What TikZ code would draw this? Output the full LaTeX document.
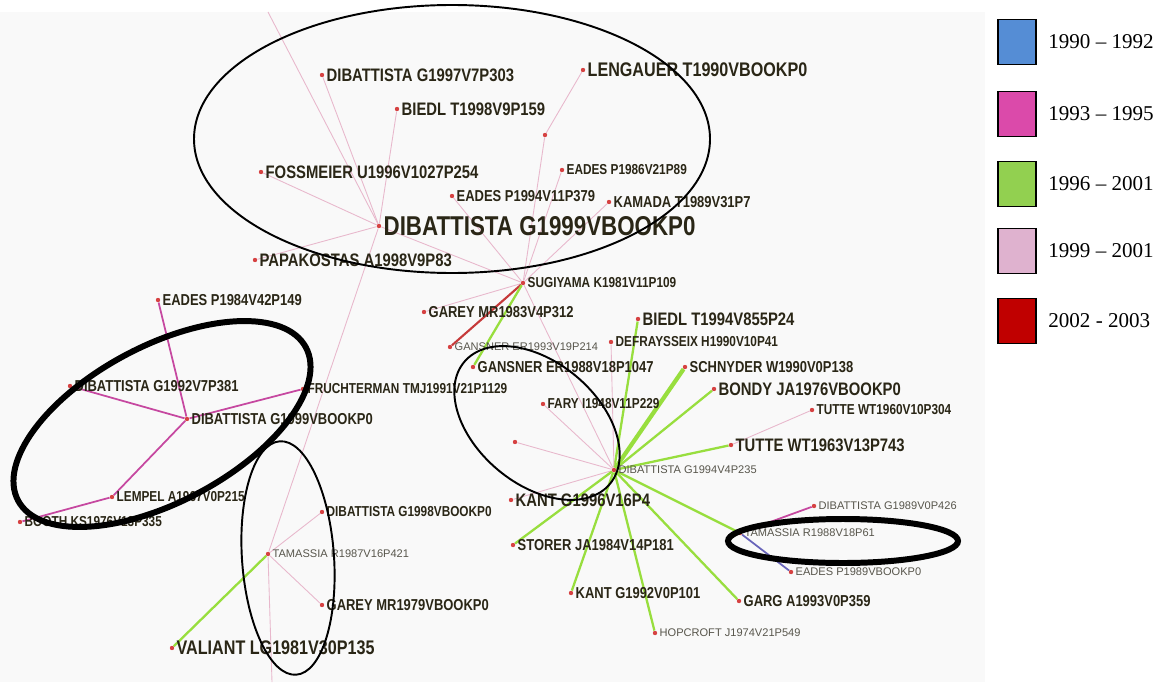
\documentclass[tikz,border=0pt]{standalone}
\usepackage{fontspec}
\usepackage{tikz}
\newfontfamily\graphfont[FakeStretch=0.82]{Liberation Sans}
\newfontfamily\plainfont{Liberation Sans}
\newfontfamily\legfont{Liberation Serif}
\definecolor{panel}{RGB}{249,249,249}
\definecolor{ink}{RGB}{42,38,22}
\definecolor{inklight}{RGB}{88,86,76}
\definecolor{dotred}{RGB}{214,66,66}
\definecolor{edgepink}{RGB}{232,184,204}
\definecolor{edgemag}{RGB}{198,72,160}
\definecolor{edgegreen}{RGB}{152,222,62}
\definecolor{edgered}{RGB}{198,58,58}
\definecolor{edgeblue}{RGB}{104,100,186}
\definecolor{legblue}{RGB}{85,141,213}
\definecolor{legmag}{RGB}{219,74,170}
\definecolor{leggreen}{RGB}{146,208,80}
\definecolor{legpink}{RGB}{223,178,207}
\definecolor{legred}{RGB}{192,0,0}
\pgfdeclarelayer{bg}
\pgfsetlayers{bg,main}
\tikzset{
pt/.style={circle,fill=dotred,inner sep=0pt,minimum size=2.5pt},
hublbl/.style={font=\graphfont\bfseries\fontsize{15.5}{17}\selectfont,text=ink,inner sep=1pt},
biglbl/.style={font=\graphfont\bfseries\fontsize{11.2}{13}\selectfont,text=ink,inner sep=1pt},
lbl/.style={font=\graphfont\bfseries\fontsize{10.3}{12}\selectfont,text=ink,inner sep=1pt},
midlbl/.style={font=\graphfont\bfseries\fontsize{9}{11}\selectfont,text=ink,inner sep=1pt},
smalllbl/.style={font=\graphfont\bfseries\fontsize{8.2}{10}\selectfont,text=ink,inner sep=1pt},
tinylbl/.style={font=\plainfont\fontsize{6.3}{8}\selectfont,text=inklight,inner sep=1pt},
pinkedge/.style={draw=edgepink,line width=0.5pt},
magedge/.style={draw=edgemag,line width=1pt},
greenedge/.style={draw=edgegreen,line width=1.3pt},
rededge/.style={draw=edgered,line width=1.2pt},
blueedge/.style={draw=edgeblue,line width=1pt},
thinring/.style={draw=black,line width=1.1pt},
thickring/.style={draw=black,line width=3.4pt},
legbox/.style={draw=black,line width=1pt,minimum width=0.76cm,minimum height=0.9cm,inner sep=0pt},
legtext/.style={font=\legfont\fontsize{12}{14}\selectfont,anchor=west,inner sep=0pt}
}
\begin{document}
\begin{tikzpicture}[x=0.02cm,y=-0.02cm]
\useasboundingbox (0,0) rectangle (1158,682);

\node[pt,label={[hublbl]right:DIBATTISTA G1999VBOOKP0}] (dib99) at (379,226) {};
\node[pt,label={[lbl]right:DIBATTISTA G1997V7P303}] (dib97) at (322,75) {};
\node[pt,label={[lbl]right:BIEDL T1998V9P159}] (biedl98) at (397,109) {};
\node[pt,label={[biglbl]right:LENGAUER T1990VBOOKP0}] (leng90) at (583,70) {};
\node[pt,label={[lbl]right:FOSSMEIER U1996V1027P254}] (fossm96) at (261,172) {};
\node[pt,label={[midlbl]right:EADES P1994V11P379}] (eades94) at (452,196) {};
\node[pt,label={[smalllbl]right:EADES P1986V21P89}] (eades86) at (562,170) {};
\node[pt,label={[midlbl]right:KAMADA T1989V31P7}] (kamada89) at (609,202) {};
\node[pt,label={[lbl]right:PAPAKOSTAS A1998V9P83}] (papak98) at (255,260) {};
\node[pt] (relay) at (545,135) {};
\node[pt,label={[smalllbl]right:SUGIYAMA K1981V11P109}] (sugi81) at (523,283) {};
\node[pt,label={[midlbl]right:GAREY MR1983V4P312}] (garey83) at (424,312) {};
\node[pt,label={[tinylbl]right:GANSNER ER1993V19P214}] (gans93) at (450,347) {};
\node[pt,label={[midlbl]right:GANSNER ER1988V18P1047}] (gans88) at (473,367) {};
\coordinate (topend) at (268,12);

\node[pt,label={[midlbl]right:EADES P1984V42P149}] (eades84) at (158,300) {};
\node[pt,label={[midlbl]right:DIBATTISTA G1992V7P381}] (dib92) at (70,386) {};
\node[pt,label={[midlbl]right:DIBATTISTA G1999VBOOKP0}] (dibL) at (187,419) {};
\node[pt,label={[smalllbl]right:FRUCHTERMAN TMJ1991V21P1129}] (frucht91) at (303,389) {};
\node[pt,label={[smalllbl]right:LEMPEL A1967V0P215}] (lempel67) at (112,497) {};
\node[pt,label={[smalllbl]right:BOOTH KS1976V13P335}] (booth76) at (20,522) {};

\node[pt,label={[tinylbl]right:TAMASSIA R1987V16P421}] (tam87) at (268,554) {};
\node[pt,label={[smalllbl]right:DIBATTISTA G1998VBOOKP0}] (dib98) at (322,512) {};
\node[pt,label={[midlbl]right:GAREY MR1979VBOOKP0}] (garey79) at (322,605) {};
\node[pt,label={[biglbl]right:VALIANT LG1981V30P135}] (valiant81) at (172,648) {};
\coordinate (botend) at (272,682);

\node[pt,label={[tinylbl]right:DIBATTISTA G1994V4P235}] (dib94) at (614,470) {};
\node[pt,label={[lbl]right:BIEDL T1994V855P24}] (biedl94) at (638,319) {};
\node[pt,label={[smalllbl]right:DEFRAYSSEIX H1990V10P41}] (defray90) at (611,342) {};
\node[pt,label={[midlbl]right:SCHNYDER W1990V0P138}] (schny90) at (685,367) {};
\node[pt,label={[lbl]right:BONDY JA1976VBOOKP0}] (bondy76) at (714,389) {};
\node[pt,label={[smalllbl]right:FARY I1948V11P229}] (fary48) at (543,404) {};
\node[pt] (stray) at (515,442) {};
\node[pt,label={[smalllbl]right:TUTTE WT1960V10P304}] (tutte60) at (812,410) {};
\node[pt,label={[lbl]right:TUTTE WT1963V13P743}] (tutte63) at (731,445) {};
\node[pt,label={[lbl]right:KANT G1996V16P4}] (kant96) at (511,500) {};
\node[pt,label={[midlbl]right:STORER JA1984V14P181}] (storer84) at (513,545) {};
\node[pt,label={[midlbl]right:KANT G1992V0P101}] (kant92) at (571,593) {};
\node[pt,label={[tinylbl]right:HOPCROFT J1974V21P549}] (hopcr74) at (655,633) {};
\node[pt,label={[midlbl]right:GARG A1993V0P359}] (garg93) at (739,601) {};
\node[pt,label={[tinylbl]right:TAMASSIA R1988V18P61}] (tam88) at (740,533) {};
\node[pt,label={[tinylbl]right:DIBATTISTA G1989V0P426}] (dib89) at (814,506) {};
\node[pt,label={[tinylbl]right:EADES P1989VBOOKP0}] (eades89) at (791,572) {};

\node[legbox,fill=legblue] (key1) at (1017,42) {};
\node[legbox,fill=legmag] (key2) at (1017,114) {};
\node[legbox,fill=leggreen] (key3) at (1017,184) {};
\node[legbox,fill=legpink] (key4) at (1017,251) {};
\node[legbox,fill=legred] (key5) at (1017,321) {};
\node[legtext] (yr1) at (1048,42) {1990 – 1992};
\node[legtext] (yr2) at (1048,114) {1993 – 1995};
\node[legtext] (yr3) at (1048,184) {1996 – 2001};
\node[legtext] (yr4) at (1048,251) {1999 – 2001};
\node[legtext] (yr5) at (1048,321) {2002 - 2003};

\begin{pgfonlayer}{bg}
\fill[panel] (0,12) rectangle (985,682);
\draw[pinkedge] (dib99) -- (topend);
\draw[pinkedge] (dib97) -- (dib99);
\draw[pinkedge] (biedl98) -- (dib99);
\draw[pinkedge] (fossm96) -- (dib99);
\draw[pinkedge] (papak98) -- (dib99);
\draw[pinkedge] (dib99) -- (sugi81);
\draw[pinkedge] (dib99) -- (tam87);
\draw[pinkedge] (leng90) -- (relay) -- (sugi81);
\draw[pinkedge] (eades86) -- (sugi81);
\draw[pinkedge] (eades94) -- (sugi81);
\draw[pinkedge] (kamada89) -- (sugi81);
\draw[pinkedge] (garey83) -- (sugi81);
\draw[rededge] (sugi81) -- (gans93);
\draw[greenedge] (sugi81) -- (gans88);
\draw[pinkedge] (sugi81) -- (dib94);

\draw[magedge] (eades84) -- (dibL);
\draw[magedge] (dib92) -- (dibL);
\draw[magedge] (dibL) -- (frucht91);
\draw[magedge] (dibL) -- (lempel67);
\draw[magedge] (lempel67) -- (booth76);

\draw[pinkedge] (tam87) -- (dib98);
\draw[pinkedge] (tam87) -- (garey79);
\draw[greenedge] (tam87) -- (valiant81);
\draw[pinkedge] (tam87) -- (botend);

\draw[greenedge] (dib94) -- (biedl94);
\draw[pinkedge] (dib94) -- (defray90);
\draw[greenedge,line width=2.4pt] (dib94) -- (schny90);
\draw[greenedge] (dib94) -- (bondy76);
\draw[pinkedge] (dib94) -- (fary48);
\draw[pinkedge] (dib94) -- (stray);
\draw[greenedge] (dib94) -- (tutte63);
\draw[pinkedge] (tutte63) -- (tutte60);
\draw[pinkedge] (dib94) -- (kant96);
\draw[greenedge] (dib94) -- (storer84);
\draw[greenedge] (dib94) -- (kant92);
\draw[greenedge] (dib94) -- (hopcr74);
\draw[greenedge] (dib94) -- (garg93);
\draw[greenedge] (dib94) -- (tam88);
\draw[magedge] (tam88) -- (dib89);
\draw[blueedge] (tam88) -- (eades89);
\end{pgfonlayer}

\draw[thinring] (452,139) ellipse [x radius=258, y radius=134];
\draw[thickring,rotate around={28:(162,424)}] (162,424) ellipse [x radius=163, y radius=78];
\draw[thinring,rotate around={4:(288,558)}] (288,558) ellipse [x radius=46, y radius=117];
\draw[thinring,rotate around={-40:(537,423)}] (537,423) ellipse [x radius=95, y radius=61];
\draw[thickring] (843,541) ellipse [x radius=115, y radius=22];
\end{tikzpicture}
\end{document}
